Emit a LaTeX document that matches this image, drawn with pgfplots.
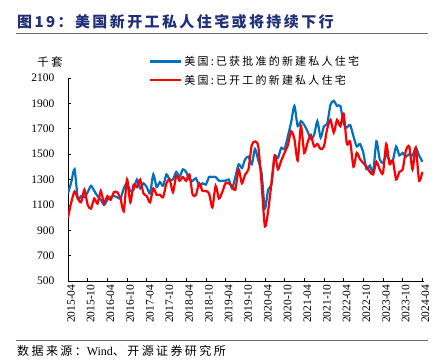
\documentclass[border=0pt]{standalone}
\usepackage{fontspec}
\setmainfont{Liberation Serif}
\newfontfamily\cjk[LetterSpace=20]{Noto Sans CJK SC}
\newfontfamily\cjktitle[LetterSpace=16]{Noto Sans CJK SC}
\usepackage{pgfplots}
\usepackage{pgfplotstable}
\pgfplotsset{compat=1.18}
\definecolor{navy}{RGB}{32,48,120}
\definecolor{sblue}{RGB}{0,112,192}
\definecolor{sred}{RGB}{255,0,0}
\definecolor{rulegray}{RGB}{110,110,110}

\pgfplotstableread{
m permit start
0 1190 1000
1 1280 1120
2 1380 1205
3 1150 1150
4 1170 1120
5 1160 1220
6 1200 1100
7 1250 1070
8 1210 1150
9 1170 1110
10 1140 1210
11 1100 1110
12 1140 1170
13 1160 1140
14 1170 1200
15 1160 1200
16 1150 1150
17 1230 1050
18 1270 1300
19 1210 1120
20 1220 1260
21 1300 1240
22 1230 1300
23 1270 1190
24 1240 1170
25 1190 1120
26 1340 1230
27 1240 1180
28 1280 1180
29 1250 1160
30 1340 1270
31 1300 1300
32 1300 1200
33 1360 1330
34 1320 1290
35 1380 1320
36 1360 1290
37 1300 1340
38 1290 1180
39 1310 1180
40 1250 1270
41 1270 1210
42 1260 1210
43 1320 1190
44 1320 1080
45 1320 1250
46 1290 1150
47 1290 1200
48 1290 1270
49 1300 1270
50 1230 1250
51 1320 1220
52 1420 1380
53 1390 1270
54 1460 1340
55 1480 1380
56 1420 1570
57 1540 1600
58 1450 1560
59 1350 1270
60 1070 930
61 1220 1050
62 1260 1270
63 1480 1490
64 1470 1380
65 1550 1450
66 1540 1510
67 1640 1570
68 1750 1680
69 1880 1620
70 1720 1450
71 1760 1720
72 1730 1510
73 1680 1590
74 1620 1650
75 1650 1560
76 1760 1580
77 1630 1540
78 1720 1560
79 1740 1700
80 1890 1770
81 1920 1670
82 1880 1770
83 1880 1720
84 1740 1820
85 1710 1580
86 1730 1600
87 1640 1400
88 1560 1510
89 1580 1460
90 1510 1430
91 1380 1400
92 1410 1360
93 1360 1340
94 1600 1440
95 1460 1380
96 1430 1350
97 1500 1580
98 1450 1420
99 1450 1450
100 1560 1300
101 1490 1360
102 1510 1380
103 1480 1530
104 1500 1560
105 1490 1380
106 1550 1550
107 1490 1290
108 1440 1360
}\housing

\begin{document}
\begin{tikzpicture}[x=1pt,y=1pt]
\path[use as bounding box] (0,0) rectangle (443,363);
\node[anchor=west,inner sep=0pt,text=navy,font=\cjktitle\bfseries\fontsize{15}{18}\selectfont] at (17,341) {图19：美国新开工私人住宅或将持续下行};
\draw[rulegray,line width=1pt] (16,329) -- (428,329);
\node[anchor=center,inner sep=0pt,font=\cjk\fontsize{11.5}{13}\selectfont] at (50,301) {千套};
\draw[rulegray,line width=0.8pt] (16,23) -- (428,23);
\node[anchor=west,inner sep=0pt,font=\fontsize{12}{14}\selectfont] at (17,12) {\cjk 数据来源：\rmfamily Wind\cjk 、开源证券研究所};
\begin{axis}[
  at={(68pt,82pt)}, anchor=origin,
  scale only axis, width=356pt, height=203pt,
  xmin=0, xmax=108.5, ymin=500, ymax=2100,
  axis x line=bottom, axis y line=left,
  axis line style={-, black, line width=0.7pt},
  tick align=inside, major tick length=3pt,
  tick style={black, line width=0.6pt},
  ytick={500,700,...,2100},
  xtick={0,6,...,108},
  xticklabels={2015-04,2015-10,2016-04,2016-10,2017-04,2017-10,2018-04,2018-10,2019-04,2019-10,2020-04,2020-10,2021-04,2021-10,2022-04,2022-10,2023-04,2023-10,2024-04},
  /pgf/number format/assume math mode=true,
  /pgf/number format/1000 sep={},
  tick label style={font=\fontsize{11.5}{13}\selectfont},
  yticklabel style={xshift=-10pt},
  xticklabel style={rotate=90, anchor=east, yshift=-3pt},
  legend style={at={(0.2275,1.035)}, anchor=west, draw=none, fill=none, inner sep=0pt,
    font=\cjk\fontsize{11}{13}\selectfont, row sep=4pt,
    nodes={inner sep=2pt}},
  legend cell align=left,
  legend image code/.code={\draw[#1] (0pt,0pt) -- (31pt,0pt);},
]
\addplot[sblue, line width=2.2pt, smooth, tension=0.4] table[x=m,y=permit] {\housing};
\addlegendentry{美国:已获批准的新建私人住宅}
\addplot[sred, line width=2.2pt, smooth, tension=0.4] table[x=m,y=start] {\housing};
\addlegendentry{美国:已开工的新建私人住宅}
\end{axis}
\end{tikzpicture}
\end{document}
